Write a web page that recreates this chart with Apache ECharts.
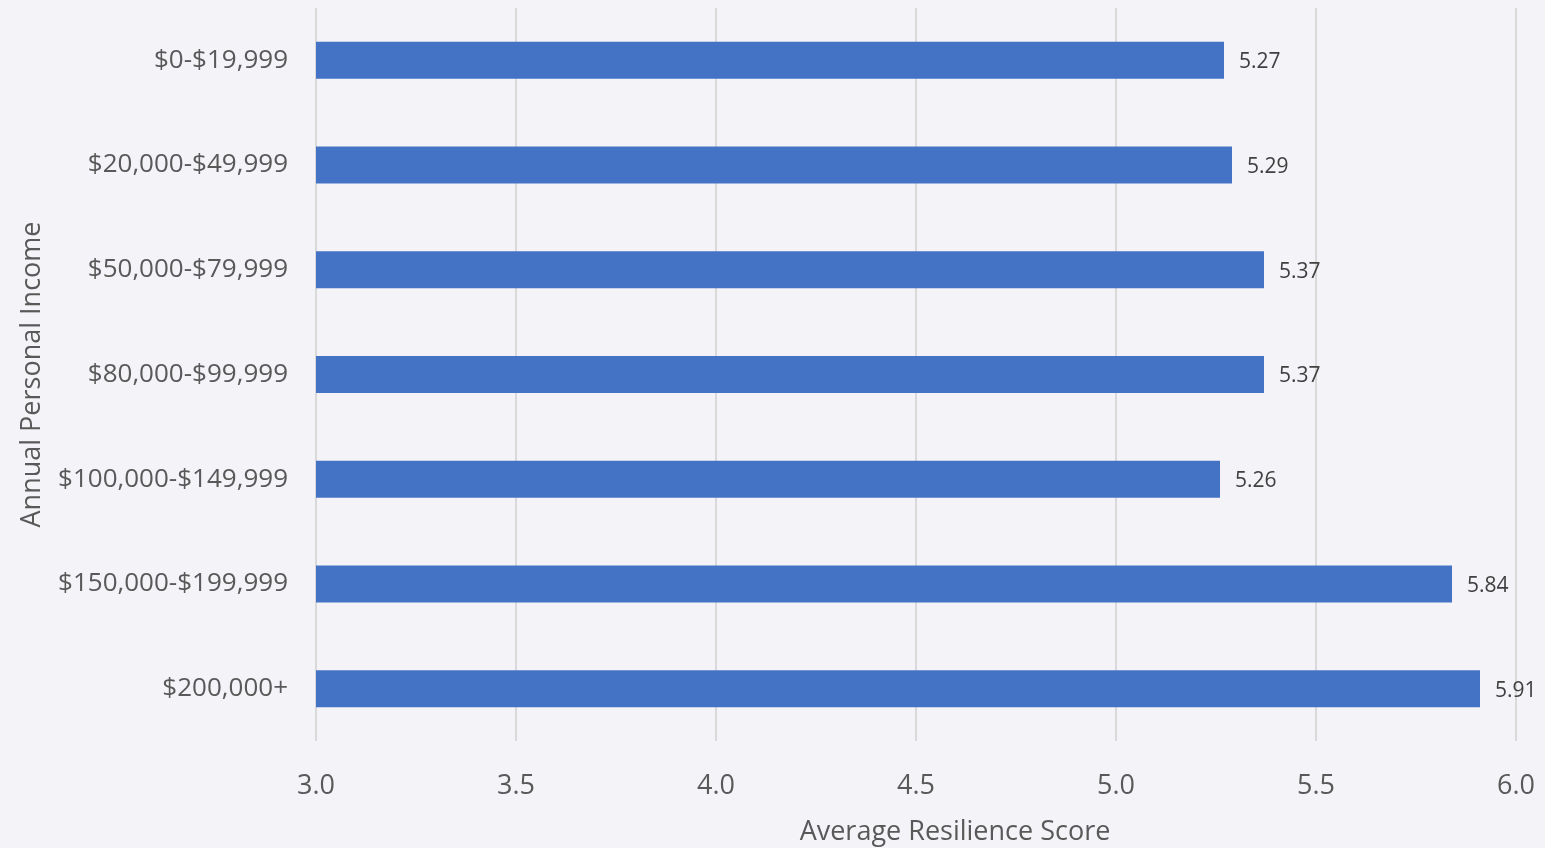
<!DOCTYPE html>
<html>
<head>
<meta charset="utf-8">
<script src="https://cdn.jsdelivr.net/npm/echarts@6/dist/echarts.min.js"></script>
<style>
  html, body { margin: 0; padding: 0; background: #f4f4f8; }
  #chart { width: 1545px; height: 848px; }
</style>
</head>
<body>
<div id="chart"></div>
<script>
var categories = ['$0-$19,999', '$20,000-$49,999', '$50,000-$79,999', '$80,000-$99,999',
  '$100,000-$149,999', '$150,000-$199,999', '$200,000+']
var scores = [5.27, 5.29, 5.37, 5.37, 5.26, 5.84, 5.91]

var font = '"Open Sans", "Noto Sans", sans-serif'
var chart = echarts.init(document.getElementById('chart'))

chart.setOption({
  backgroundColor: '#f4f4f8',
  grid: { left: 316, right: 29, top: 8, bottom: 107, outerBoundsMode: 'none' },
  xAxis: {
    type: 'value',
    min: 3,
    max: 6,
    interval: 0.5,
    name: 'Average Resilience Score',
    nameLocation: 'middle',
    nameGap: 78,
    nameTextStyle: { fontFamily: font, fontSize: 27, color: '#595959', padding: [0, 0, 0, 78] },
    axisLine: { show: false },
    axisTick: { show: false },
    axisLabel: {
      margin: 32,
      fontFamily: font, fontSize: 27, color: '#595959',
      formatter: function (v) { return v.toFixed(1) }
    },
    splitLine: { lineStyle: { color: '#d9d9d9', width: 2 } }
  },
  yAxis: {
    type: 'category',
    inverse: true,
    data: categories,
    name: 'Annual Personal Income',
    nameLocation: 'middle',
    nameGap: 270,
    nameTextStyle: { fontFamily: font, fontSize: 27, color: '#595959' },
    axisLine: { show: false },
    axisTick: { show: false },
    axisLabel: { margin: 28, fontFamily: font, fontSize: 26, color: '#595959', padding: [10, 0, 0, 0] }
  },
  series: [{
    type: 'bar',
    data: scores,
    barWidth: 37,
    itemStyle: { color: '#4472c4' },
    label: {
      show: true,
      position: 'right',
      distance: 15,
      offset: [0, 2],
      fontFamily: font,
      fontSize: 21,
      color: '#404040',
      formatter: function (p) { return p.value.toFixed(2) }
    }
  }]
})
</script>
</body>
</html>
